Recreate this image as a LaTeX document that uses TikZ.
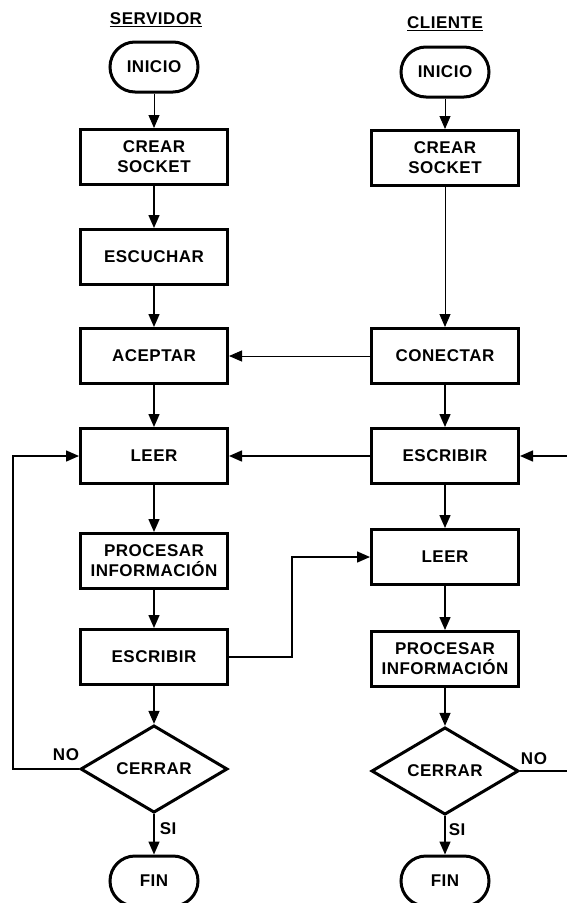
\documentclass[tikz,border=0pt]{standalone}
\usepackage{fontspec}
\setmainfont{Liberation Sans}[LetterSpace=3]
\usetikzlibrary{shapes.geometric,arrows.meta}
\tikzset{
  lbl/.style={font=\bfseries\fontsize{17}{20}\selectfont, inner sep=0pt},
  procbox/.style={draw, rectangle, line width=3pt, minimum width=147pt, minimum height=55pt,
    align=center, font=\bfseries\fontsize{17}{20}\selectfont, inner sep=0pt},
  termbox/.style={draw, rectangle, rounded corners=25pt, line width=3pt, minimum width=88pt,
    minimum height=50pt, font=\bfseries\fontsize{17}{20}\selectfont, inner sep=0pt},
  decbox/.style={draw, diamond, line width=3pt, minimum width=147pt, minimum height=78pt,
    inner sep=0pt, font=\bfseries\fontsize{17}{20}\selectfont},
  arr/.style={line width=1.5pt, -{Triangle[length=13pt,width=11pt]}},
  thinarr/.style={line width=1pt, -{Triangle[length=13pt,width=11pt]}},
  conn/.style={line width=1.5pt}
}
\begin{document}
\begin{tikzpicture}[x=1pt,y=-1pt]
\useasboundingbox (0,0) rectangle (567,903);
\clip (0,0) rectangle (567,903);
% titles
\node[lbl] (t_serv) at (156,20) {\underline{SERVIDOR}};
\node[lbl] (t_cli) at (445,24) {\underline{CLIENTE}};
% server column
\node[termbox] (s_ini) at (154,67) {INICIO};
\node[procbox] (s_crear) at (154,157) {CREAR\\SOCKET};
\node[procbox] (s_esc) at (154,257) {ESCUCHAR};
\node[procbox] (s_acep) at (154,356) {ACEPTAR};
\node[procbox] (s_leer) at (154,456) {LEER};
\node[procbox] (s_proc) at (154,561) {PROCESAR\\INFORMACIÓN};
\node[procbox] (s_escr) at (154,657) {ESCRIBIR};
\node[decbox] (s_cerr) at (154,769) {CERRAR};
\node[termbox] (s_fin) at (154,881) {FIN};
% client column
\node[termbox] (c_ini) at (445,72) {INICIO};
\node[procbox] (c_crear) at (445,158) {CREAR\\SOCKET};
\node[procbox] (c_con) at (445,356) {CONECTAR};
\node[procbox] (c_escr) at (445,456) {ESCRIBIR};
\node[procbox] (c_leer) at (445,557) {LEER};
\node[procbox] (c_proc) at (445,659) {PROCESAR\\INFORMACIÓN};
\node[decbox] (c_cerr) at (445,771) {CERRAR};
\node[termbox] (c_fin) at (445,881) {FIN};
% coordinates
\coordinate (lloop) at (13,769);
\coordinate (mid) at (292,657);
\coordinate (rloop) at (585,771);
% server flow
\draw[thinarr] (s_ini) -- (s_crear);
\draw[arr] (s_crear) -- (s_esc);
\draw[arr] (s_esc) -- (s_acep);
\draw[arr] (s_acep) -- (s_leer);
\draw[arr] (s_leer) -- (s_proc);
\draw[arr] (s_proc) -- (s_escr);
\draw[arr] (s_escr) -- (s_cerr);
\draw[arr] (s_cerr) -- node[lbl, right=5pt, pos=0.35] (s_si) {SI} (s_fin);
\draw[arr] (s_cerr.west) -- (lloop) |- (s_leer.west);
\node[lbl] (s_no) at (66,755) {NO};
% client flow
\draw[thinarr] (c_ini) -- (c_crear);
\draw[thinarr] (c_crear) -- (c_con);
\draw[arr] (c_con) -- (c_escr);
\draw[arr] (c_escr) -- (c_leer);
\draw[arr] (c_leer) -- (c_proc);
\draw[arr] (c_proc) -- (c_cerr);
\draw[arr] (c_cerr) -- node[lbl, right=3pt, pos=0.35] (c_si) {SI} (c_fin);
\draw[conn] (c_cerr.east) -- (rloop);
\draw[arr] (rloop) |- (c_escr.east);
\node[lbl] (c_no) at (534,759) {NO};
% cross connections
\draw[thinarr] (c_con) -- (s_acep);
\draw[arr] (c_escr) -- (s_leer);
\draw[arr] (s_escr.east) -- (mid) |- (c_leer.west);
\end{tikzpicture}
\end{document}
